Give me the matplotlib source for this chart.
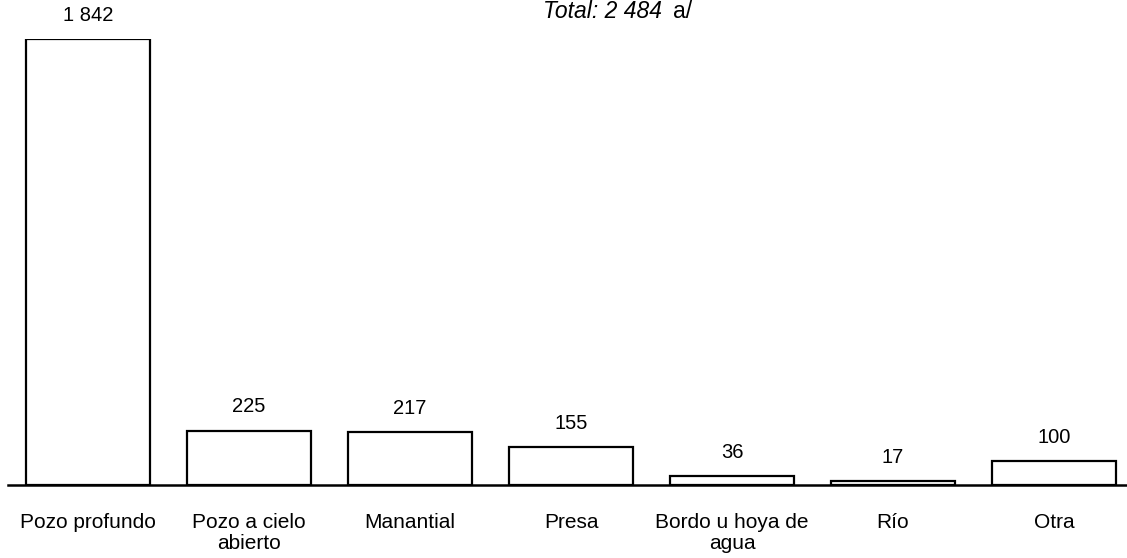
import numpy as np
import matplotlib.pyplot as plt

plt.rcParams['font.family'] = ['Liberation Sans', 'DejaVu Sans']

categories = ['Pozo profundo', 'Pozo a cielo\nabierto', 'Manantial', 'Presa',
              'Bordo u hoya de\nagua', 'Río', 'Otra']
values = [1842, 225, 217, 155, 36, 17, 100]
value_labels = ['1 842', '225', '217', '155', '36', '17', '100']

fig = plt.figure(figsize=(11.27, 5.58), dpi=100)
# axes: baseline at y=485px, top at y=39px for 1842
ax = fig.add_axes([7.5 / 1127, (558 - 485) / 558, 1127 / 1127, 446 / 558])

x = np.arange(len(categories))
ax.bar(x, values, width=124 / 161, color='white', edgecolor='black', linewidth=1.6)
ax.set_xlim(-0.5, 6.5)
ax.set_ylim(0, 1842)

for xi, v, lab in zip(x, values, value_labels):
    ax.annotate(lab, (xi, v), xytext=(0, 17), textcoords='offset points',
                ha='center', va='center', fontsize=14.5)

for s in ['top', 'right', 'left']:
    ax.spines[s].set_visible(False)
ax.spines['bottom'].set_linewidth(1.8)
ax.set_yticks([])
ax.set_xticks(x)
ax.set_xticklabels(categories, fontsize=15, linespacing=1.15)
ax.tick_params(axis='x', length=0, pad=20)

fig.text(543 / 1127, 1 - 11 / 558, 'Total: 2 484', style='italic', fontsize=16.5,
         ha='left', va='center')
fig.text(673 / 1127, 1 - 11 / 558, 'a/', fontsize=16.5, ha='left', va='center')

fig.savefig('out.png', dpi=100)
